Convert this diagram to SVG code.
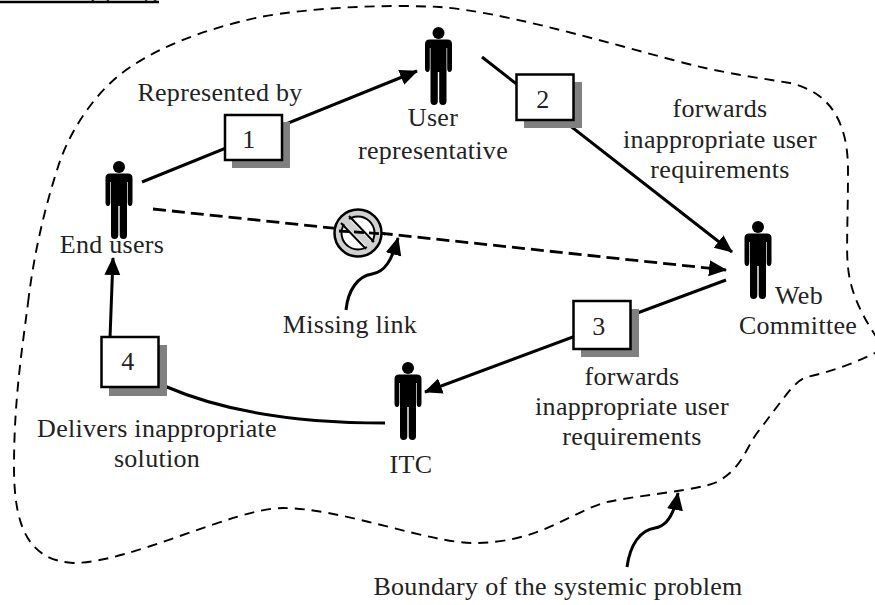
<svg xmlns="http://www.w3.org/2000/svg" width="875" height="605" viewBox="0 0 875 605">
<style>
text{font-family:"Liberation Serif","Times New Roman",serif;font-size:26px;letter-spacing:.3px;fill:#222;text-anchor:middle}
.b{fill:none;stroke:#000;stroke-width:1.9;stroke-dasharray:10 7}
.c{fill:none;stroke:#000;stroke-width:3}
.d{fill:none;stroke:#000;stroke-width:2.800;stroke-dasharray:13 6}
.box{fill:#fff;stroke:#000;stroke-width:2.500}
.sh{fill:#808080}
</style>
<defs>
<marker id="a" markerUnits="userSpaceOnUse" markerWidth="20" markerHeight="18" refX="17" refY="8" orient="auto"><path d="M0 0L18 8L0 16Z" fill="#000"/></marker>
<g id="p"><circle cx="0" cy="-32" r="6"/><path d="M-9 -25.500Q-13.500 -25.500 -13.500 -21V3Q-13.500 7 -11 7Q-8.700 7 -8.700 3V-17H-8V36Q-8 40 -4.500 40Q-.7 40 -.7 36V7H.7V36Q.7 40 4.500 40Q8 40 8 36V-17H8.700V3Q8.700 7 11 7Q13.500 7 13.500 3V-21Q13.500 -25.500 9 -25.500Z" fill="#000"/></g>
</defs>
<g id="connectors">
<path class="b" d="M28 303C33 260 43 213 58 167C68 135 90 100 117 77C150 50 200 30 260 17C310 8 380 4 440 7C500 12 580 35 673 60C720 73 760 78 790 83C820 90 848 110 848 170C848 220 846 250 848 267C850 290 860 312 875 335C880 342 880 350 875 353C855 363 830 372 807 377C795 380 785 397 757 433C745 450 742 468 717 482C700 490 640 495 607 502C570 512 540 543 473 543C430 543 340 508 283 508C235 508 130 563 73 563C30 560 14 530 14 467C14 400 22 350 28 303Z"/>
<path class="c" marker-end="url(#a)" d="M142 182L417 71"/>
<path class="c" marker-end="url(#a)" d="M482 57L732 252"/>
<path class="c" marker-end="url(#a)" d="M726 280L425 392"/>
<path class="c" marker-end="url(#a)" d="M385 423C290 423 220 410 167 387C130 370 110 350 110 338L113 258"/>
<path class="d" marker-end="url(#a)" d="M153 209L726 270"/>
<path class="c" marker-end="url(#a)" d="M346 310C348 290 358 276 372 274C385 272 392 260 398 238"/>
<path class="c" marker-end="url(#a)" d="M627 567C630 545 640 530 655 528C668 526 675 510 678 493"/>
</g>
<g id="no-entry"><circle cx="358" cy="233" r="23.500" fill="#d0d0d0" stroke="#000" stroke-width="2.500"/><circle cx="358" cy="233" r="16.500" fill="#fff" stroke="#000" stroke-width="2"/><path d="M344 219L372 247" stroke="#d0d0d0" stroke-width="7"/><path d="M341 223L366 249M349 216L374 242" stroke="#000" stroke-width="2"/><path d="M339 231L385 234" stroke="#000" stroke-width="2.800" stroke-dasharray="10 5"/></g>
<g id="end-users"><use href="#p" x="119" y="199"/><text x="112" y="253">End users</text></g>
<g id="user-rep"><use href="#p" x="438.500" y="65"/><text x="433" y="126">User</text><text x="433" y="159">representative</text></g>
<g id="web-committee"><use href="#p" x="758" y="259"/><text x="799" y="304">Web</text><text x="798" y="334">Committee</text></g>
<g id="itc"><use href="#p" x="408" y="400"/><text x="411" y="473">ITC</text></g>
<g id="box1"><rect class="sh" x="232" y="122" width="58" height="46"/><rect class="box" x="225" y="115" width="57" height="45"/><text x="249" y="148">1</text></g>
<g id="box2"><rect class="sh" x="524" y="82" width="58" height="46"/><rect class="box" x="516.500" y="74.500" width="57" height="45.500"/><text x="543" y="108">2</text></g>
<g id="box3"><rect class="sh" x="581" y="309" width="58" height="48"/><rect class="box" x="573.500" y="301" width="57" height="48"/><text x="599" y="335">3</text></g>
<g id="box4"><rect class="sh" x="109" y="345" width="58" height="51"/><rect class="box" x="101.500" y="337" width="57" height="50"/><text x="128" y="370">4</text></g>
<g id="labels">
<text x="220" y="101">Represented by</text>
<text x="720" y="117">forwards</text><text x="720" y="148">inappropriate user</text><text x="720" y="178">requirements</text>
<text x="350" y="333">Missing link</text>
<text x="632" y="385">forwards</text><text x="632" y="415">inappropriate user</text><text x="632" y="445">requirements</text>
<text x="157" y="437">Delivers inappropriate</text><text x="157" y="467">solution</text>
<text x="558" y="595">Boundary of the systemic problem</text>
<text x="159" y="-2" style="text-anchor:end;letter-spacing:2px">Mapping</text>
<path d="M0 2H159" stroke="#000" stroke-width="2.500"/>
</g>
</svg>
